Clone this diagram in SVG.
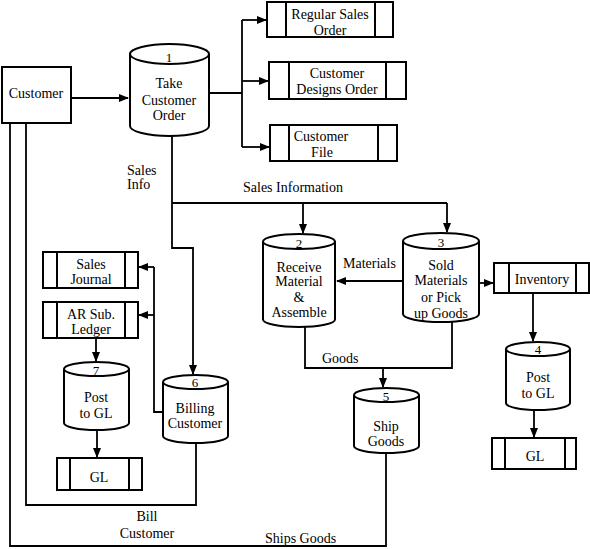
<svg xmlns="http://www.w3.org/2000/svg" width="590" height="549" viewBox="0 0 590 549">
<style>
text{font-family:"Liberation Serif","Times New Roman",serif;font-size:14px;fill:#000;text-anchor:middle}
.lbl{text-anchor:start}
.num{font-size:13px}
.box,.cyl{fill:#fff;stroke:#000;stroke-width:2}
.div{stroke:#000;stroke-width:2}
.c{fill:none;stroke:#000;stroke-width:1.8}
.a{marker-end:url(#ah)}
</style>
<defs>
<marker id="ah" markerUnits="userSpaceOnUse" markerWidth="10" markerHeight="8" refX="9" refY="4" orient="auto">
<path d="M0,0 L10,4 L0,8 Z" fill="#000"/>
</marker>
</defs>
<g id="connectors">
<path class="c a" d="M71,98 H128"/>
<path class="c" d="M209,93 H242 M242,20 V147"/>
<path class="c a" d="M242,20 H266"/>
<path class="c a" d="M242,81 H268"/>
<path class="c a" d="M242,147 H269"/>
<path class="c a" d="M172,136 V248 H193 V374"/>
<path class="c" d="M172,203 H447"/>
<path class="c a" d="M303,203 V233"/>
<path class="c a" d="M447,203 V232"/>
<path class="c a" d="M403,281 H337"/>
<path class="c a" d="M479,283 H493"/>
<path class="c a" d="M533,293 V341"/>
<path class="c a" d="M534,410 V437"/>
<path class="c" d="M305,327 V368 H452 V322"/>
<path class="c a" d="M383,368 V387"/>
<path class="c" d="M386,453 V546 H10 V123"/>
<path class="c" d="M163,412 L154,412 V267"/>
<path class="c a" d="M154,267 H139"/>
<path class="c a" d="M154,315 H139"/>
<path class="c a" d="M96,338 V361"/>
<path class="c a" d="M97,430 V457"/>
<path class="c" d="M196,443 V505 H26 V123"/>
<text class="lbl" x="127" y="175">Sales</text>
<text class="lbl" x="127" y="189">Info</text>
<text class="lbl" x="243" y="192">Sales Information</text>
<text class="lbl" x="343" y="268">Materials</text>
<text class="lbl" x="322" y="363">Goods</text>
<text x="147" y="521">Bill</text>
<text x="147" y="538">Customer</text>
<text class="lbl" x="265" y="543">Ships Goods</text>
</g>
<g id="customer">
<rect class="box" x="2" y="67" width="69" height="56"/>
<text x="36" y="98">Customer</text>
</g>
<g id="p1">
<path class="cyl" d="M130,54 V126 A39.5,10 0 0 0 209,126 V54"/>
<ellipse class="cyl" cx="169.5" cy="54" rx="39.5" ry="10"/>
<text class="num" x="169" y="62">1</text>
<text x="169" y="88">Take</text>
<text x="169" y="105">Customer</text>
<text x="169" y="120">Order</text>
</g>
<g id="regular-sales-order">
<rect class="box" x="267" y="2" width="126" height="35"/>
<path class="div" d="M286,2 V37 M375,2 V37"/>
<text x="330" y="19">Regular Sales</text>
<text x="330" y="35">Order</text>
</g>
<g id="customer-designs-order">
<rect class="box" x="269" y="62" width="137" height="37"/>
<path class="div" d="M289,62 V99 M386,62 V99"/>
<text x="337" y="78">Customer</text>
<text x="337" y="94">Designs Order</text>
</g>
<g id="customer-file">
<rect class="box" x="270" y="125" width="127" height="36"/>
<path class="div" d="M289,125 V161 M378,125 V161"/>
<text x="321" y="141">Customer</text>
<text x="322" y="157">File</text>
</g>
<g id="p2">
<path class="cyl" d="M263,241.5 V319.5 A36,7.5 0 0 0 335,319.5 V241.5"/>
<ellipse class="cyl" cx="299" cy="241.5" rx="36" ry="7.5"/>
<text class="num" x="299" y="248">2</text>
<text x="299" y="272">Receive</text>
<text x="299" y="286">Material</text>
<text x="299" y="302">&amp;</text>
<text x="299" y="317">Assemble</text>
</g>
<g id="p3">
<path class="cyl" d="M403,241 V314 A38,8 0 0 0 479,314 V241"/>
<ellipse class="cyl" cx="441" cy="241" rx="38" ry="8"/>
<text class="num" x="441" y="247">3</text>
<text x="441" y="270">Sold</text>
<text x="441" y="285">Materials</text>
<text x="441" y="302">or Pick</text>
<text x="441" y="318">up Goods</text>
</g>
<g id="inventory">
<rect class="box" x="494" y="263" width="95" height="30"/>
<path class="div" d="M509,263 V293 M576,263 V293"/>
<text x="542" y="284">Inventory</text>
</g>
<g id="p4">
<path class="cyl" d="M506,349 V403 A32,7 0 0 0 570,403 V349"/>
<ellipse class="cyl" cx="538" cy="349" rx="32" ry="7"/>
<text class="num" x="538" y="354">4</text>
<text x="538" y="382">Post</text>
<text x="538" y="398">to GL</text>
</g>
<g id="gl-right">
<rect class="box" x="492" y="438" width="84" height="31"/>
<path class="div" d="M505,438 V469 M565,438 V469"/>
<text x="535" y="461">GL</text>
</g>
<g id="p5">
<path class="cyl" d="M354,395 V446 A32.5,7 0 0 0 419,446 V395"/>
<ellipse class="cyl" cx="386.5" cy="395" rx="32.5" ry="7"/>
<text class="num" x="386" y="401">5</text>
<text x="386" y="431">Ship</text>
<text x="386" y="446">Goods</text>
</g>
<g id="p6">
<path class="cyl" d="M163,382 V436 A32.5,7 0 0 0 228,436 V382"/>
<ellipse class="cyl" cx="195.5" cy="382" rx="32.5" ry="7"/>
<text class="num" x="195" y="387">6</text>
<text x="195" y="413">Billing</text>
<text x="195" y="428">Customer</text>
</g>
<g id="p7">
<path class="cyl" d="M64,369 V423 A32.5,7 0 0 0 129,423 V369"/>
<ellipse class="cyl" cx="96.5" cy="369" rx="32.5" ry="7"/>
<text class="num" x="96" y="375">7</text>
<text x="96" y="402">Post</text>
<text x="96" y="418">to GL</text>
</g>
<g id="gl-left">
<rect class="box" x="57" y="458" width="85" height="32"/>
<path class="div" d="M70,458 V490 M129,458 V490"/>
<text x="99" y="482">GL</text>
</g>
<g id="sales-journal">
<rect class="box" x="43" y="252" width="95" height="36"/>
<path class="div" d="M57,252 V288 M125,252 V288"/>
<text x="91" y="269">Sales</text>
<text x="91" y="284">Journal</text>
</g>
<g id="ar-sub-ledger">
<rect class="box" x="43" y="302" width="95" height="36"/>
<path class="div" d="M57,302 V338 M125,302 V338"/>
<text x="91" y="319">AR Sub.</text>
<text x="91" y="334">Ledger</text>
</g>
</svg>
